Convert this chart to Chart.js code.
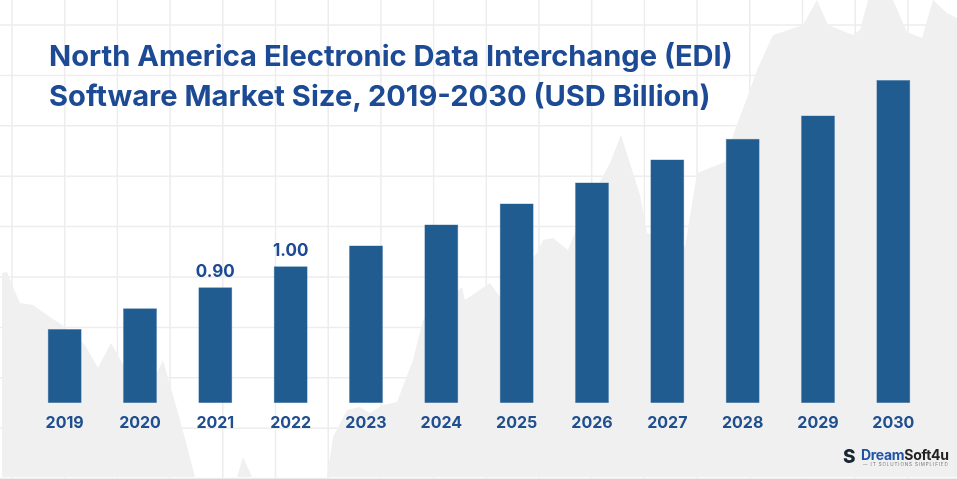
<!DOCTYPE HTML>
<html>
<head>
  <meta name='viewport' content='width=device-width, initial-scale=1'>
  <title>North America EDI Software Market Size</title>
  <script src='https://cdn.jsdelivr.net/npm/chart.js'></script>
  <style>
    body {
      margin: 0;
      padding: 0;
      background-color: #fff;
      font-family: Inter, 'Open Sans', sans-serif;
    }
    .wrap {
      position: relative;
      width: 957px;
      height: 479px;
      overflow: hidden;
    }
    .wrap canvas {
      position: absolute;
      left: 0;
      top: 0;
    }
    .title {
      position: absolute;
      left: 49px;
      top: 36px;
      font-size: 29.1px;
      line-height: 40px;
      font-weight: 700;
      color: #1c4a94;
      white-space: nowrap;
    }
    .logo {
      position: absolute;
      left: 843px;
      top: 447px;
      height: 24px;
      white-space: nowrap;
    }
    .logo .mark {
      position: absolute;
      left: 0;
      top: 0;
      font-size: 19px;
      font-weight: 800;
      color: #1b2633;
      line-height: 20px;
    }
    .logo .name {
      position: absolute;
      left: 18px;
      top: 0;
      font-size: 14px;
      font-weight: 700;
      line-height: 16px;
      letter-spacing: -0.3px;
    }
    .logo .name .a { color: #2153a3; }
    .logo .name .b { color: #222; }
    .logo .tag {
      position: absolute;
      left: 20px;
      top: 15px;
      font-size: 4.5px;
      letter-spacing: 0.9px;
      color: #777;
    }
  </style>
</head>
<body>
  <div class='wrap'>
    <canvas id='ediChart' width='957' height='479'></canvas>
    <div class='title'>North America Electronic Data Interchange (EDI)<br>Software Market Size, 2019-2030 (USD Billion)</div>
    <div class='logo'>
      <span class='mark'>S</span>
      <span class='name'><span class='a'>Dream</span><span class='b'>Soft4u</span></span>
      <span class='tag'>— IT SOLUTIONS SIMPLIFIED</span>
    </div>
  </div>
  <script>
    // data
    var years = ['2019', '2020', '2021', '2022', '2023', '2024', '2025', '2026', '2027', '2028', '2029', '2030'];
    var marketSize = [0.70, 0.80, 0.90, 1.00, 1.10, 1.20, 1.30, 1.40, 1.51, 1.61, 1.72, 1.89];
    var labelledYears = ['2021', '2022']; // only these bars carry a value label

    // faint grid + grey mountain shape in the background (decoration only)
    var mountain = [
      [2, 477], [2, 273], [7, 272], [12, 285], [20, 303], [33, 305], [47, 315], [62, 325],
      [85, 345], [98, 368], [111, 343], [125, 368], [155, 377], [163, 360], [170, 385],
      [180, 420], [188, 450], [195, 477], [237, 477], [243, 457], [252, 477], [327, 477],
      [333, 437], [347, 410], [360, 407], [370, 413], [383, 405], [397, 402], [413, 360],
      [423, 320], [462, 287], [465, 300], [490, 283], [500, 297], [537, 253], [543, 240],
      [553, 238], [568, 250], [580, 220], [597, 187], [610, 163], [621, 135], [640, 195],
      [647, 233], [685, 247], [697, 173], [725, 162], [735, 130], [750, 90], [757, 70],
      [773, 35], [803, 25], [817, 0], [828, 25], [853, 35], [860, 30], [868, 0], [893, 0],
      [907, 32], [922, 38], [933, 0], [947, 13], [957, 18], [957, 477]
    ];

    var backdrop = {
      id: 'backdrop',
      beforeDraw: function(chart) {
        var c = chart.ctx;
        c.save();
        c.fillStyle = '#ffffff';
        c.fillRect(0, 0, chart.width, chart.height);
        c.strokeStyle = '#ededed';
        c.lineWidth = 1.5;
        for (var x = 12; x < chart.width; x += 52.7) {
          c.beginPath();
          c.moveTo(x, 0);
          c.lineTo(x, chart.height);
          c.stroke();
        }
        for (var y = 25; y < chart.height; y += 50.4) {
          c.beginPath();
          c.moveTo(0, y);
          c.lineTo(chart.width, y);
          c.stroke();
        }
        c.fillStyle = '#f0f0f0';
        c.beginPath();
        c.moveTo(mountain[0][0], mountain[0][1]);
        for (var i = 1; i < mountain.length; i++) {
          c.lineTo(mountain[i][0], mountain[i][1]);
        }
        c.closePath();
        c.fill();
        c.restore();
      }
    };

    var valueLabels = {
      id: 'valueLabels',
      afterDatasetsDraw: function(chart) {
        var c = chart.ctx;
        var meta = chart.getDatasetMeta(0);
        c.save();
        c.fillStyle = '#1c4a94';
        c.font = '700 17px Inter, sans-serif';
        c.textAlign = 'center';
        c.textBaseline = 'bottom';
        meta.data.forEach(function(bar, i) {
          if (labelledYears.indexOf(years[i]) === -1) return;
          c.fillText(marketSize[i].toFixed(2), bar.x, bar.y - 7);
        });
        c.restore();
      }
    };

    var ctx = document.getElementById('ediChart').getContext('2d');
    var ediChart = new Chart(ctx, {
      type: 'bar',
      data: {
        labels: years,
        datasets: [{
          data: marketSize,
          backgroundColor: '#215c91',
          borderColor: '#4a7fb0',
          borderWidth: 0.5,
          barPercentage: 0.45,
          categoryPercentage: 1
        }]
      },
      options: {
        responsive: false,
        animation: false,
        layout: {
          padding: { left: 27, right: 26, top: 57, bottom: 35 }
        },
        plugins: {
          legend: { display: false },
          tooltip: { enabled: false }
        },
        scales: {
          x: {
            grid: { display: false, drawTicks: false },
            border: { display: false },
            ticks: {
              padding: 11,
              color: '#1f4f8f',
              font: { family: 'Inter', size: 16, weight: '700' }
            }
          },
          y: {
            display: false,
            min: 0.348,
            max: 2.0
          }
        }
      },
      plugins: [backdrop, valueLabels]
    });
  </script>
</body>
</html>
